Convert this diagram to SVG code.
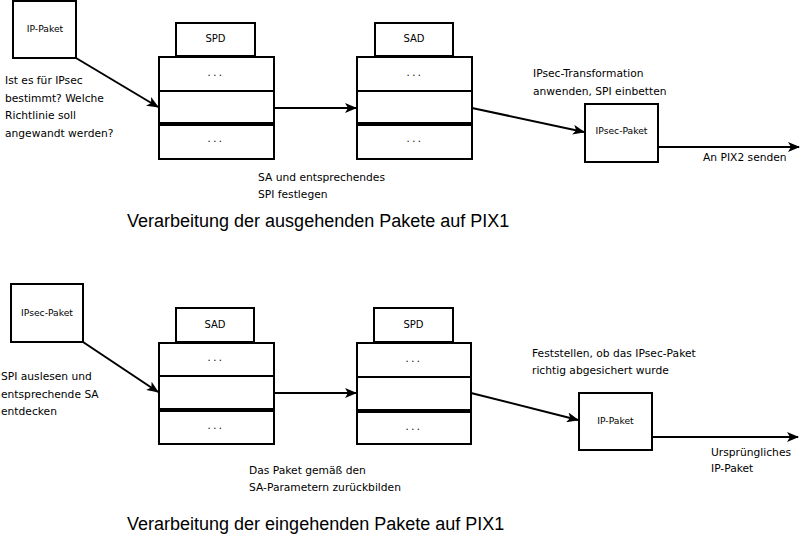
<svg xmlns="http://www.w3.org/2000/svg" width="800" height="543" viewBox="0 0 800 543">
<style>
.box{fill:#fff;stroke:#000;stroke-width:2}
.thick{stroke:#000;stroke-width:4}
.thin{stroke:#000;stroke-width:2}
.lbl{font-family:"DejaVu Sans",sans-serif;font-size:9.2px;fill:#000;text-anchor:middle}
.hd{font-family:"DejaVu Sans",sans-serif;font-size:10px;fill:#000;text-anchor:middle}
.dots{font-family:"DejaVu Sans",sans-serif;font-size:10px;fill:#000;text-anchor:middle;letter-spacing:2.5px}
.note{font-family:"DejaVu Sans",sans-serif;font-size:10.7px;fill:#000}
.title{font-family:"Liberation Sans",Arial,sans-serif;font-size:18px;fill:#000}
.conn{fill:none;stroke:#000;stroke-width:2}
</style>
<defs>
<marker id="ah" viewBox="0 0 12 10" refX="11" refY="5" markerWidth="12" markerHeight="10" markerUnits="userSpaceOnUse" orient="auto">
<path d="M0,0 L12,5 L0,10 L3,5 z" fill="#000"/>
</marker>
</defs>
<rect width="800" height="543" fill="#fff"/>

<!-- Top section -->
<g id="ip-paket-out">
<rect class="box" x="13" y="1" width="63" height="57"/>
<text class="lbl" x="45" y="32">IP-Paket</text>
</g>
<g id="spd-out">
<rect class="box" x="176" y="23" width="79" height="33"/>
<text class="hd" x="215.5" y="42">SPD</text>
<rect class="box" x="159" y="57" width="115" height="102"/>
<line class="thin" x1="159" y1="91" x2="274" y2="91"/>
<line class="thick" x1="159" y1="124" x2="274" y2="124"/>
<text class="dots" x="216" y="76">...</text>
<text class="dots" x="216" y="142">...</text>
</g>
<g id="sad-out">
<rect class="box" x="375" y="23" width="78" height="33"/>
<text class="hd" x="414" y="42">SAD</text>
<rect class="box" x="357" y="57" width="115" height="102"/>
<line class="thin" x1="357" y1="91" x2="472" y2="91"/>
<line class="thick" x1="357" y1="124" x2="472" y2="124"/>
<text class="dots" x="415" y="76">...</text>
<text class="dots" x="415" y="142">...</text>
</g>
<g id="ipsec-paket-out">
<rect class="box" x="585" y="104" width="73" height="58"/>
<text class="lbl" x="621.5" y="134">IPsec-Paket</text>
</g>

<!-- Bottom section -->
<g id="ipsec-paket-in">
<rect class="box" x="11" y="284" width="72" height="58"/>
<text class="lbl" x="47" y="316">IPsec-Paket</text>
</g>
<g id="sad-in">
<rect class="box" x="176" y="308" width="78" height="34"/>
<text class="hd" x="215" y="328">SAD</text>
<rect class="box" x="159" y="343" width="115" height="101"/>
<line class="thin" x1="159" y1="376" x2="274" y2="376"/>
<line class="thick" x1="159" y1="410" x2="274" y2="410"/>
<text class="dots" x="216" y="361">...</text>
<text class="dots" x="216" y="429">...</text>
</g>
<g id="spd-in">
<rect class="box" x="374" y="308" width="79" height="34"/>
<text class="hd" x="413.5" y="328">SPD</text>
<rect class="box" x="357" y="343" width="114" height="101"/>
<line class="thin" x1="357" y1="377" x2="471" y2="377"/>
<line class="thick" x1="357" y1="411" x2="471" y2="411"/>
<text class="dots" x="414" y="362">...</text>
<text class="dots" x="414" y="430">...</text>
</g>
<g id="ip-paket-in">
<rect class="box" x="579" y="393" width="73" height="57"/>
<text class="lbl" x="615.5" y="424">IP-Paket</text>
</g>

<g id="connectors">
<line class="conn" x1="76" y1="58" x2="158" y2="107" marker-end="url(#ah)"/>
<line class="conn" x1="274" y1="108" x2="356" y2="108" marker-end="url(#ah)"/>
<line class="conn" x1="472" y1="108" x2="584" y2="132" marker-end="url(#ah)"/>
<line class="conn" x1="658" y1="147" x2="799" y2="147" marker-end="url(#ah)"/>
<line class="conn" x1="83" y1="342" x2="158" y2="392" marker-end="url(#ah)"/>
<line class="conn" x1="274" y1="393" x2="356" y2="393" marker-end="url(#ah)"/>
<line class="conn" x1="471" y1="393" x2="578" y2="420" marker-end="url(#ah)"/>
<line class="conn" x1="652" y1="437" x2="798" y2="437" marker-end="url(#ah)"/>
</g>

<g id="notes">
<text class="note" x="5" y="84">Ist es für IPsec</text>
<text class="note" x="5" y="102">bestimmt? Welche</text>
<text class="note" x="5" y="119">Richtlinie soll</text>
<text class="note" x="5" y="137">angewandt werden?</text>
<text class="note" x="258" y="181">SA und entsprechendes</text>
<text class="note" x="258" y="198">SPI festlegen</text>
<text class="note" x="533" y="77">IPsec-Transformation</text>
<text class="note" x="533" y="95">anwenden, SPI einbetten</text>
<text class="note" x="703" y="161">An PIX2 senden</text>
<text class="title" x="127" y="227">Verarbeitung der ausgehenden Pakete auf PIX1</text>

<text class="note" x="1" y="380">SPI auslesen und</text>
<text class="note" x="1" y="398">entsprechende SA</text>
<text class="note" x="1" y="415">entdecken</text>
<text class="note" x="249" y="474">Das Paket gemäß den</text>
<text class="note" x="249" y="491">SA-Parametern zurückbilden</text>
<text class="note" x="532" y="357">Feststellen, ob das IPsec-Paket</text>
<text class="note" x="532" y="374">richtig abgesichert wurde</text>
<text class="note" x="711" y="456">Ursprüngliches</text>
<text class="note" x="711" y="472">IP-Paket</text>
<text class="title" x="127" y="530">Verarbeitung der eingehenden Pakete auf PIX1</text>
</g>
</svg>
